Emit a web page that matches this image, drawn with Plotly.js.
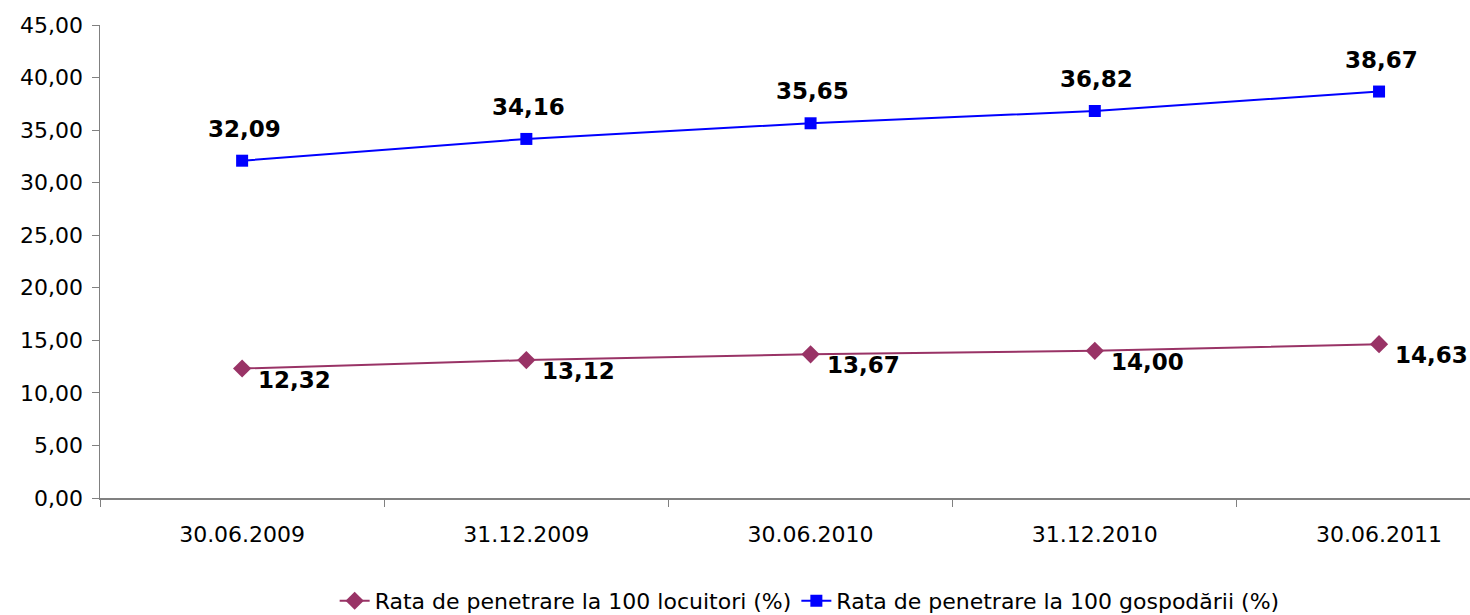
<!DOCTYPE html>
<html><head><meta charset="utf-8">
<script src="https://cdn.plot.ly/plotly-3.0.1.min.js"></script>
<style>html,body{margin:0;padding:0;background:#fff}#chart{width:1470px;height:615px}</style>
</head><body><div id="chart"></div>
<script>
var categories = ["30.06.2009", "31.12.2009", "30.06.2010", "31.12.2010", "30.06.2011"];
var locuitori = [12.32, 13.12, 13.67, 14.00, 14.63];
var gospodarii = [32.09, 34.16, 35.65, 36.82, 38.67];
var nameLoc = "Rata de penetrare la 100 locuitori (%)";
var nameGosp = "Rata de penetrare la 100 gospodării (%)";
function fmt(v){ return v.toFixed(2).replace('.', ','); }
var F = "DejaVu Sans, Verdana, sans-serif";
var traces = [
 {x: categories, y: locuitori, name: nameLoc, type: "scatter", mode: "lines+markers",
  line: {color: "#993366", width: 2}, marker: {symbol: "diamond", size: 14, color: "#993366"}},
 {x: categories, y: gospodarii, name: nameGosp, type: "scatter", mode: "lines+markers",
  line: {color: "#0000FF", width: 2}, marker: {symbol: "square", size: 12, color: "#0000FF"}}
];
var lblFont = {family: F, size: 23, color: "#000", weight: "bold"};
var annotations = [];
categories.forEach(function(c, i){
  annotations.push({x: c, y: locuitori[i], xref: "x", yref: "y", text: fmt(locuitori[i]),
    showarrow: false, xanchor: "left", yanchor: "middle", xshift: 14, yshift: -11, font: lblFont});
  annotations.push({x: c, y: gospodarii[i], xref: "x", yref: "y", text: fmt(gospodarii[i]),
    showarrow: false, xanchor: "center", yanchor: "middle", xshift: 2, yshift: 32, font: lblFont});
});
var layout = {
 width: 1470, height: 615,
 margin: {l: 100, r: 0, t: 25, b: 117, autoexpand: false},
 paper_bgcolor: "#fff", plot_bgcolor: "#fff",
 separators: ",.",
 font: {family: F, size: 22, color: "#000"},
 showlegend: true,
 legend: {orientation: "h", x: 0.518, xanchor: "center", y: -0.262, yanchor: "bottom",
  font: {family: F, size: 22, color: "#000"}, traceorder: "normal"},
 annotations: annotations,
 xaxis: {type: "category", range: [-0.5, 4.32], showgrid: false, zeroline: false, automargin: false,
  showline: true, linecolor: "#808080", linewidth: 1.5,
  ticks: "outside", ticklen: 7, tickcolor: "#808080", tickson: "boundaries",
  ticklabelstandoff: 16,
  tickfont: {family: F, size: 22, color: "#000"}},
 yaxis: {range: [0, 45], dtick: 5, tickformat: ".2f", showgrid: false, zeroline: false, automargin: false,
  showline: true, linecolor: "#808080", linewidth: 1.5,
  ticks: "outside", ticklen: 7, tickcolor: "#808080", ticklabelstandoff: 4,
  tickfont: {family: F, size: 22, color: "#000"}}
};
Plotly.newPlot("chart", traces, layout, {displayModeBar: false, staticPlot: true});
</script></body></html>
